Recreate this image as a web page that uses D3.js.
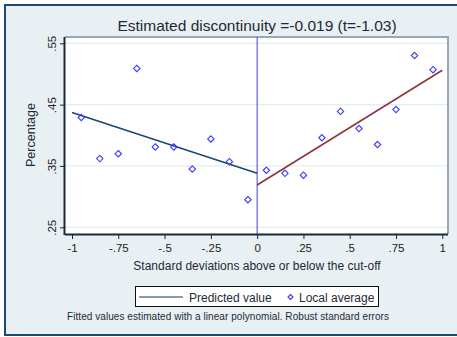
<!DOCTYPE html>
<html>
<head>
<meta charset="utf-8">
<script src="https://cdn.jsdelivr.net/npm/d3@7"></script>
<style>
  html, body { margin: 0; padding: 0; background: #ffffff; }
  svg { display: block; font-family: "Liberation Sans", Arial, sans-serif; }
</style>
</head>
<body>
<svg id="chart" width="457" height="337"></svg>
<script>
// Bin midpoints (standard deviations from the cut-off)
const binX = [-0.95, -0.85, -0.75, -0.65, -0.55, -0.45, -0.35, -0.25, -0.15, -0.05,
               0.05,  0.15,  0.25,  0.35,  0.45,  0.55,  0.65,  0.75,  0.85,  0.95];
// Local averages of the outcome in each bin
const binY = [0.429, 0.362, 0.370, 0.509, 0.381, 0.381, 0.345, 0.394, 0.357, 0.295,
              0.343, 0.338, 0.335, 0.396, 0.439, 0.411, 0.385, 0.442, 0.530, 0.507];
// Linear fits on each side of the cut-off (x, predicted value)
const fitLeft  = [[-1, 0.437], [0, 0.338]];
const fitRight = [[0, 0.319], [1, 0.506]];

const xTicks = [-1, -0.75, -0.5, -0.25, 0, 0.25, 0.5, 0.75, 1];
const yTicks = [0.25, 0.35, 0.45, 0.55];

const titleText = "Estimated discontinuity =-0.019 (t=-1.03)";
const xTitle = "Standard deviations above or below the cut-off";
const yTitle = "Percentage";
const legendLabels = ["Predicted value", "Local average"];
const noteText = "Fitted values estimated with a linear polynomial. Robust standard errors";

const fmt = v => {
  if (v === 0) return "0";
  if (Math.abs(v) === 1) return String(v);
  return String(v).replace("0.", ".");
};

const svg = d3.select("#chart");
const W = 457, H = 337;
const plot = { left: 65, right: 448, top: 37, bottom: 234 };

// Outer graph region
svg.append("rect").attr("x", 0).attr("y", 0).attr("width", W).attr("height", H).attr("fill", "#ffffff");
svg.append("rect").attr("x", 5).attr("y", 5).attr("width", W - 5).attr("height", 330)
  .attr("fill", "#e9f0f3");
svg.append("line").attr("x1", 4).attr("x2", W).attr("y1", 5).attr("y2", 5)
  .attr("stroke", "#1f4a70").attr("stroke-width", 2);
svg.append("line").attr("x1", 5).attr("x2", 5).attr("y1", 4).attr("y2", 336)
  .attr("stroke", "#1f4a70").attr("stroke-width", 2);
svg.append("line").attr("x1", 4).attr("x2", W).attr("y1", 335).attr("y2", 335)
  .attr("stroke", "#1f4a70").attr("stroke-width", 2);

const x = d3.scaleLinear().domain([-1, 1]).range([72, 442.3]);
const y = d3.scaleLinear().domain([0.25, 0.55]).range([227.3, 43.3]);

// Plot region
svg.append("rect")
  .attr("x", plot.left).attr("y", plot.top)
  .attr("width", plot.right - plot.left).attr("height", plot.bottom - plot.top)
  .attr("fill", "#ffffff");

// Horizontal gridlines
svg.append("g").selectAll("line").data(yTicks).join("line")
  .attr("x1", plot.left).attr("x2", plot.right)
  .attr("y1", d => y(d)).attr("y2", d => y(d))
  .attr("stroke", "#e3ecef").attr("stroke-width", 1.2);

// Top and right borders of the plot region
svg.append("path")
  .attr("d", `M${plot.left},${plot.top} H${plot.right} V${plot.bottom}`)
  .attr("fill", "none").attr("stroke", "#96a8b9").attr("stroke-width", 2);

// Cut-off line
svg.append("line")
  .attr("x1", x(0)).attr("x2", x(0)).attr("y1", plot.top).attr("y2", plot.bottom)
  .attr("stroke", "#5f5ff0").attr("stroke-width", 1.2);

// Fitted lines
const line = d3.line().x(d => x(d[0])).y(d => y(d[1]));
svg.append("path").datum(fitLeft).attr("d", line)
  .attr("fill", "none").attr("stroke", "#1a476f").attr("stroke-width", 1.6);
svg.append("path").datum(fitRight).attr("d", line)
  .attr("fill", "none").attr("stroke", "#90353b").attr("stroke-width", 1.6);

// Local averages as hollow diamonds
const diamond = d3.symbol().type(d3.symbolDiamond2).size(26);
svg.append("g").selectAll("path").data(binX).join("path")
  .attr("d", diamond)
  .attr("transform", (d, i) => `translate(${x(d)},${y(binY[i])})`)
  .attr("fill", "none").attr("stroke", "#3a3aff").attr("stroke-width", 1.1);

// X axis
const xAxis = svg.append("g").attr("transform", `translate(0,${plot.bottom})`)
  .call(d3.axisBottom(x).tickValues(xTicks).tickFormat(fmt).tickSize(5).tickSizeOuter(0).tickPadding(5));
xAxis.select(".domain").attr("d", `M${plot.left},0.5H${plot.right}`)
  .attr("stroke", "#1a2a3a").attr("stroke-width", 2);
xAxis.selectAll(".tick line").attr("stroke", "#222");
xAxis.selectAll(".tick text").attr("font-size", 11.5).attr("fill", "#222")
  .attr("font-family", "Liberation Sans, Arial, sans-serif");

// Y axis with rotated labels
const yAxis = svg.append("g").attr("transform", `translate(${plot.left},0)`)
  .call(d3.axisLeft(y).tickValues(yTicks).tickFormat(fmt).tickSize(5).tickSizeOuter(0));
yAxis.select(".domain").attr("d", `M-0.5,${plot.top}V${plot.bottom + 1}`)
  .attr("stroke", "#1a2a3a").attr("stroke-width", 2);
yAxis.selectAll(".tick line").attr("stroke", "#222");
yAxis.selectAll(".tick text")
  .attr("x", null).attr("dy", null)
  .attr("transform", "translate(-9,0) rotate(-90)")
  .attr("text-anchor", "middle")
  .attr("font-size", 11.5).attr("fill", "#222")
  .attr("font-family", "Liberation Sans, Arial, sans-serif");

// Title and axis titles
svg.append("text").attr("x", 257).attr("y", 31).attr("text-anchor", "middle")
  .attr("font-size", 15.5).attr("fill", "#1e2a36").text(titleText);
svg.append("text").attr("x", 257).attr("y", 270).attr("text-anchor", "middle")
  .attr("font-size", 12).attr("fill", "#1e2a36").text(xTitle);
svg.append("text").attr("transform", "translate(35,135) rotate(-90)").attr("text-anchor", "middle")
  .attr("font-size", 12.5).attr("fill", "#1e2a36").text(yTitle);

// Legend
const lg = svg.append("g");
lg.append("rect").attr("x", 135.5).attr("y", 286.5).attr("width", 243).attr("height", 20)
  .attr("fill", "#ffffff").attr("stroke", "#111").attr("stroke-width", 1);
lg.append("line").attr("x1", 139).attr("x2", 183).attr("y1", 297).attr("y2", 297)
  .attr("stroke", "#8a9db0").attr("stroke-width", 2);
lg.append("text").attr("x", 189).attr("y", 301.5).attr("font-size", 12).attr("fill", "#1e2a36")
  .text(legendLabels[0]);
lg.append("path").attr("d", d3.symbol().type(d3.symbolDiamond2).size(16))
  .attr("transform", "translate(290.5,297)")
  .attr("fill", "none").attr("stroke", "#3a3aff").attr("stroke-width", 1.1);
lg.append("text").attr("x", 299).attr("y", 301.5).attr("font-size", 12).attr("fill", "#1e2a36")
  .text(legendLabels[1]);

// Note
svg.append("text").attr("x", 67).attr("y", 320).attr("font-size", 10).attr("fill", "#1e2a36")
  .attr("textLength", 322).attr("lengthAdjust", "spacing")
  .text(noteText);
</script>
</body>
</html>
